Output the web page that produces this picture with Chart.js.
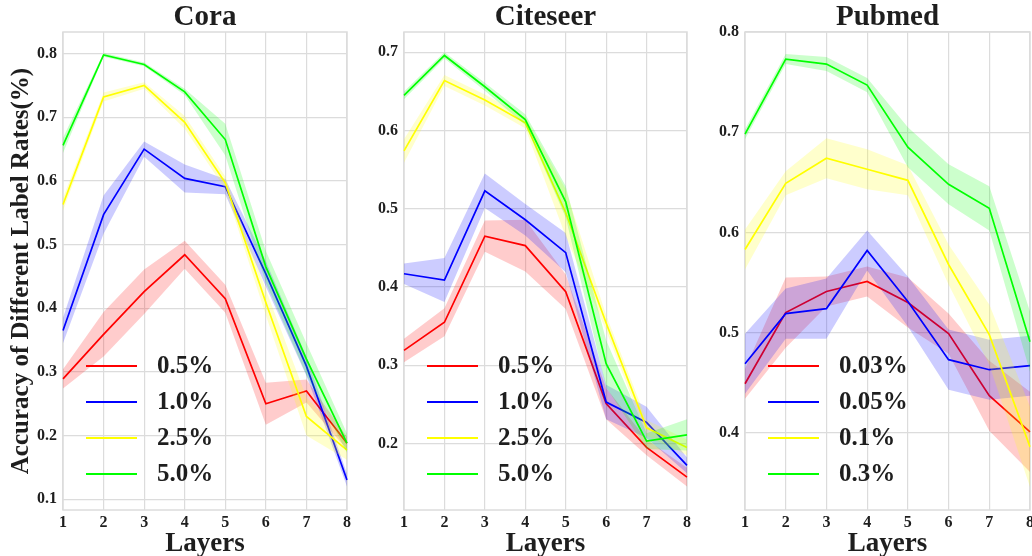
<!DOCTYPE html>
<html>
<head>
<meta charset="utf-8">
<script src="https://cdn.jsdelivr.net/npm/chart.js@4.4.1/dist/chart.umd.min.js"></script>
<style>
  html, body { margin: 0; padding: 0; background: #fff; overflow: hidden; }
  #wrap { position: relative; width: 1032px; height: 556px; }
  canvas { position: absolute; top: 0; }
</style>
</head>
<body>
<div id="wrap">
  <canvas id="cora" style="left:0px" width="354" height="556"></canvas>
  <canvas id="citeseer" style="left:354px" width="340" height="556"></canvas>
  <canvas id="pubmed" style="left:694px" width="350" height="556"></canvas>
</div>
<script>
const layers = ['1', '2', '3', '4', '5', '6', '7', '8'];
const lineColors = ['#ff0000', '#0000ff', '#ffff00', '#00ff00'];
const bandColors = ['rgba(255,0,0,0.2)', 'rgba(0,0,255,0.2)', 'rgba(255,255,0,0.2)', 'rgba(0,255,0,0.2)'];

// Cora
const coraLabels = ['0.5%', '1.0%', '2.5%', '5.0%'];
const coraRed    = [0.289, 0.359, 0.426, 0.484, 0.415, 0.250, 0.270, 0.188];
const coraBlue   = [0.365, 0.547, 0.650, 0.604, 0.591, 0.454, 0.309, 0.130];
const coraYellow = [0.563, 0.732, 0.750, 0.692, 0.597, 0.409, 0.230, 0.177];
const coraGreen  = [0.656, 0.798, 0.783, 0.740, 0.665, 0.465, 0.320, 0.188];
const coraRedErr    = [0.015, 0.035, 0.035, 0.022, 0.022, 0.033, 0.018, 0.010];
const coraBlueErr   = [0.020, 0.030, 0.012, 0.022, 0.012, 0.020, 0.015, 0.010];
const coraYellowErr = [0.010, 0.007, 0.005, 0.010, 0.010, 0.020, 0.030, 0.015];
const coraGreenErr  = [0.012, 0.003, 0.003, 0.005, 0.025, 0.025, 0.025, 0.015];
const coraTicks = [0.1, 0.2, 0.3, 0.4, 0.5, 0.6, 0.7, 0.8];

// Citeseer
const citeLabels = ['0.5%', '1.0%', '2.5%', '5.0%'];
const citeRed    = [0.319, 0.355, 0.465, 0.453, 0.394, 0.251, 0.195, 0.157];
const citeBlue   = [0.417, 0.409, 0.523, 0.486, 0.444, 0.253, 0.227, 0.172];
const citeYellow = [0.574, 0.664, 0.639, 0.610, 0.495, 0.354, 0.220, 0.195];
const citeGreen  = [0.645, 0.696, 0.656, 0.614, 0.509, 0.302, 0.203, 0.211];
const citeRedErr    = [0.015, 0.018, 0.020, 0.033, 0.022, 0.020, 0.010, 0.012];
const citeBlueErr   = [0.013, 0.028, 0.022, 0.020, 0.025, 0.022, 0.020, 0.010];
const citeYellowErr = [0.015, 0.007, 0.007, 0.007, 0.030, 0.010, 0.010, 0.010];
const citeGreenErr  = [0.005, 0.004, 0.005, 0.007, 0.020, 0.030, 0.010, 0.020];
const citeTicks = [0.2, 0.3, 0.4, 0.5, 0.6, 0.7];

// Pubmed
const pubLabels = ['0.03%', '0.05%', '0.1%', '0.3%'];
const pubRed    = [0.449, 0.520, 0.541, 0.551, 0.530, 0.499, 0.437, 0.401];
const pubBlue   = [0.469, 0.519, 0.524, 0.582, 0.531, 0.473, 0.463, 0.467];
const pubYellow = [0.583, 0.649, 0.674, 0.663, 0.652, 0.568, 0.498, 0.386];
const pubGreen  = [0.698, 0.773, 0.768, 0.747, 0.685, 0.648, 0.624, 0.491];
const pubRedErr    = [0.015, 0.035, 0.015, 0.015, 0.025, 0.020, 0.035, 0.040];
const pubBlueErr   = [0.030, 0.025, 0.030, 0.020, 0.025, 0.030, 0.030, 0.030];
const pubYellowErr = [0.020, 0.012, 0.020, 0.020, 0.015, 0.020, 0.030, 0.040];
const pubGreenErr  = [0.005, 0.005, 0.007, 0.007, 0.020, 0.020, 0.022, 0.030];
const pubTicks = [0.4, 0.5, 0.6, 0.7, 0.8];

const SERIF = "'Liberation Serif', 'Times New Roman', serif";
const TEXT = '#1e1e1e';
const GRID = '#dcdcdc';

// frame around the plot area, like the matplotlib spines
const framePlugin = {
  id: 'frame',
  beforeDatasetsDraw(chart) {
    const a = chart.chartArea;
    const ctx = chart.ctx;
    ctx.save();
    ctx.strokeStyle = GRID;
    ctx.lineWidth = 1.5;
    ctx.strokeRect(a.left, a.top, a.right - a.left, a.bottom - a.top);
    ctx.restore();
  }
};

// legend drawn inside the plot, bottom-left
const innerLegend = {
  id: 'innerLegend',
  afterDatasetsDraw(chart, args, opts) {
    const a = chart.chartArea;
    const ctx = chart.ctx;
    ctx.save();
    ctx.font = 'bold 25px ' + SERIF;
    ctx.textBaseline = 'middle';
    ctx.textAlign = 'left';
    opts.labels.forEach((lab, i) => {
      const y = a.bottom - 144 + i * 36;
      ctx.strokeStyle = lineColors[i];
      ctx.lineWidth = 2;
      ctx.beginPath();
      ctx.moveTo(a.left + 23, y);
      ctx.lineTo(a.left + 74, y);
      ctx.stroke();
      ctx.fillStyle = TEXT;
      ctx.fillText(lab, a.left + 94, y + 1);
    });
    ctx.restore();
  }
};

function buildDatasets(means, errs) {
  const sets = [];
  means.forEach((m, s) => {
    const e = errs[s];
    sets.push({
      data: m.map((v, i) => v - e[i]),
      borderWidth: 0, pointRadius: 0, fill: false, order: 100 - s * 10
    });
    sets.push({
      data: m.map((v, i) => v + e[i]),
      borderWidth: 0, pointRadius: 0, fill: '-1',
      backgroundColor: bandColors[s], order: 100 - s * 10
    });
    sets.push({
      data: m,
      borderColor: lineColors[s], borderWidth: 1.7, pointRadius: 0,
      fill: false, tension: 0, order: 95 - s * 10
    });
  });
  return sets;
}

function makeChart(id, title, labels, means, errs, ticks, yMin, yMax, yWidth, padRight, showYTitle) {
  const config = {
    type: 'line',
    data: { labels: layers, datasets: buildDatasets(means, errs) },
    options: {
      responsive: false,
      animation: false,
      layout: { padding: { left: 0, right: padRight, top: 0, bottom: 0 } },
      plugins: {
        legend: { display: false },
        tooltip: { enabled: false },
        title: {
          display: true, text: title, color: TEXT, fullSize: false,
          font: { family: SERIF, size: 29, weight: 'bold', lineHeight: 1 },
          padding: { top: 3, bottom: 0 }
        },
        innerLegend: { labels: labels }
      },
      scales: {
        x: {
          offset: false,
          grid: { color: GRID, lineWidth: 1.2, drawTicks: false },
          border: { display: false },
          ticks: {
            color: TEXT, padding: 3, autoSkip: false, maxRotation: 0,
            font: { family: SERIF, size: 16, weight: 'bold' }
          },
          title: {
            display: true, text: 'Layers', color: TEXT,
            font: { family: SERIF, size: 27, weight: 'bold', lineHeight: 1 },
            padding: { top: 0, bottom: -2 }
          },
          afterFit(scale) { scale.height = 46; }
        },
        y: {
          min: yMin, max: yMax,
          grid: { color: GRID, lineWidth: 1.2, drawTicks: false },
          border: { display: false },
          ticks: {
            color: TEXT, padding: 6,
            font: { family: SERIF, size: 16, weight: 'bold' },
            callback: (v) => v.toFixed(1)
          },
          title: {
            display: showYTitle, text: 'Accuracy of Different Label Rates(%)', color: TEXT,
            font: { family: SERIF, size: 25, weight: 'bold', lineHeight: 1 },
            padding: { top: 9, bottom: 0 }
          },
          afterBuildTicks(scale) { scale.ticks = ticks.map(v => ({ value: v })); },
          afterFit(scale) { scale.width = yWidth; }
        }
      }
    },
    plugins: [framePlugin, innerLegend]
  };
  return new Chart(document.getElementById(id), config);
}

makeChart('cora', 'Cora', coraLabels,
  [coraRed, coraBlue, coraYellow, coraGreen],
  [coraRedErr, coraBlueErr, coraYellowErr, coraGreenErr],
  coraTicks, 0.083, 0.834, 63, 7, true);

makeChart('citeseer', 'Citeseer', citeLabels,
  [citeRed, citeBlue, citeYellow, citeGreen],
  [citeRedErr, citeBlueErr, citeYellowErr, citeGreenErr],
  citeTicks, 0.115, 0.726, 50, 6, false);

makeChart('pubmed', 'Pubmed', pubLabels,
  [pubRed, pubBlue, pubYellow, pubGreen],
  [pubRedErr, pubBlueErr, pubYellowErr, pubGreenErr],
  pubTicks, 0.323, 0.8, 51, 14, false);
</script>
</body>
</html>
